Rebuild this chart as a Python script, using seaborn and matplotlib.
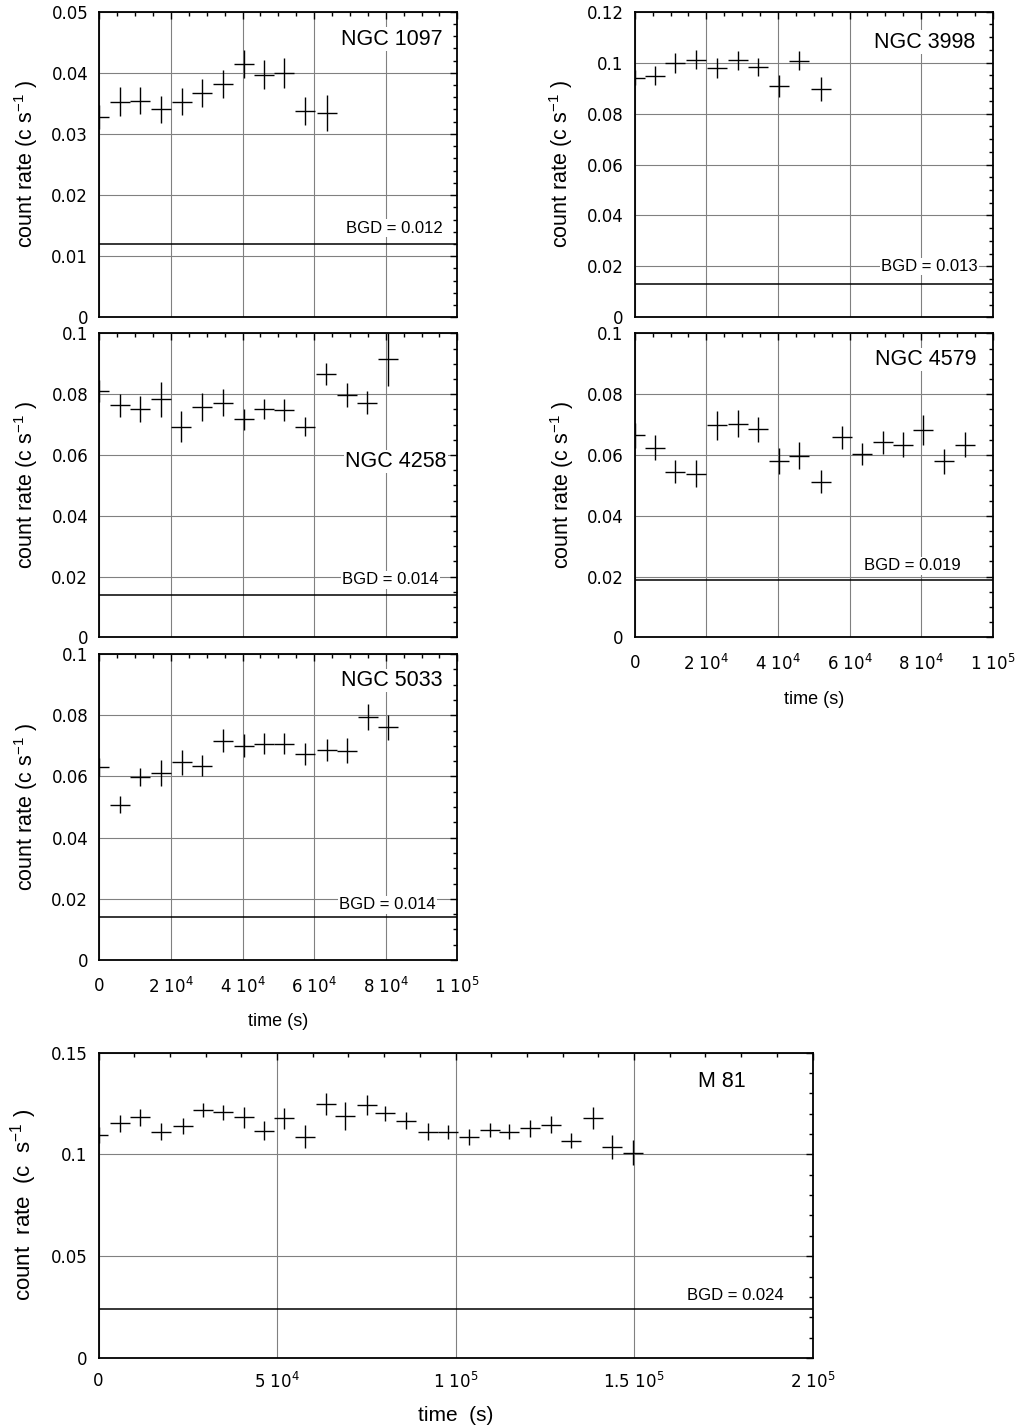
import numpy as np
import matplotlib
matplotlib.use("Agg")
import matplotlib.pyplot as plt
from matplotlib.ticker import MultipleLocator, FuncFormatter
import seaborn as sns

# light curves: bin centre (s), rate (c/s), 1-sigma error
t_1097 = [0, 5770, 11450, 17230, 23090, 28770, 34450, 40320, 46090, 51680, 57540, 63500]
r_1097 = [0.0328, 0.0353, 0.0354, 0.0340, 0.0353, 0.0367, 0.0381, 0.0414, 0.0397, 0.0400, 0.0338, 0.0334]
e_1097 = [0.0020, 0.0023, 0.0022, 0.0022, 0.0022, 0.0023, 0.0023, 0.0023, 0.0024, 0.0025, 0.0023, 0.0029]

t_3998 = [0, 5680, 11270, 17040, 22900, 28770, 34540, 40220, 46000, 51950]
r_3998 = [0.0941, 0.0949, 0.1000, 0.1012, 0.0980, 0.1009, 0.0984, 0.0908, 0.1008, 0.0895]
e_3998 = [0.0030, 0.0036, 0.0039, 0.0038, 0.0039, 0.0036, 0.0035, 0.0042, 0.0036, 0.0047]

t_4258 = [0, 5770, 11450, 17230, 22810, 28770, 34450, 40320, 46090, 51680, 57540, 63320, 69090, 74670, 80540]
r_4258 = [0.0810, 0.0763, 0.0750, 0.0783, 0.0692, 0.0759, 0.0772, 0.0717, 0.0750, 0.0747, 0.0693,
          0.0865, 0.0797, 0.0772, 0.0914]
e_4258 = [0.0035, 0.0037, 0.0043, 0.0058, 0.0051, 0.0046, 0.0044, 0.0034, 0.0033, 0.0036, 0.0032,
          0.0036, 0.0038, 0.0038, 0.0088]

t_4579 = [0, 5680, 11270, 17040, 22900, 28770, 34540, 40220, 46000, 51950, 57820, 63590, 69270,
          75050, 80630, 86500, 92270]
r_4579 = [0.0664, 0.0624, 0.0545, 0.0538, 0.0698, 0.0703, 0.0684, 0.0579, 0.0598, 0.0512, 0.0658,
          0.0603, 0.0641, 0.0633, 0.0682, 0.0579, 0.0633]
e_4579 = [0.0040, 0.0041, 0.0038, 0.0045, 0.0048, 0.0044, 0.0042, 0.0043, 0.0043, 0.0038, 0.0037,
          0.0036, 0.0038, 0.0041, 0.0048, 0.0041, 0.0041]

t_5033 = [0, 5770, 11450, 17230, 23000, 28770, 34450, 40320, 46090, 51680, 57540, 63500, 69090,
          74950, 80540]
r_5033 = [0.0630, 0.0507, 0.0597, 0.0612, 0.0646, 0.0635, 0.0717, 0.0700, 0.0707, 0.0707, 0.0672,
          0.0686, 0.0684, 0.0793, 0.0760]
e_5033 = [0.0030, 0.0028, 0.0029, 0.0043, 0.0041, 0.0035, 0.0038, 0.0038, 0.0034, 0.0035, 0.0036,
          0.0037, 0.0040, 0.0042, 0.0040]

t_m81 = [0, 5920, 11690, 17460, 23540, 29160, 34930, 40850, 46300, 51900, 57800, 63630, 68940,
         75200, 80330, 86100, 92180, 97950, 103700, 109600, 115000, 121000, 126800, 132400, 138500,
         143800, 149600]
r_m81 = [0.1096, 0.1152, 0.1181, 0.1112, 0.1140, 0.1217, 0.1206, 0.1181, 0.1116, 0.1176, 0.1086,
         0.1247, 0.1189, 0.1242, 0.1201, 0.1165, 0.1112, 0.1108, 0.1086, 0.1119, 0.1111, 0.1127,
         0.1145, 0.1067, 0.1178, 0.1037, 0.1009]
e_m81 = [0.0040, 0.0041, 0.0043, 0.0041, 0.0038, 0.0034, 0.0035, 0.0051, 0.0047, 0.0053, 0.0057,
         0.0055, 0.0068, 0.0049, 0.0038, 0.0041, 0.0041, 0.0035, 0.0038, 0.0036, 0.0038, 0.0041,
         0.0041, 0.0037, 0.0055, 0.0060, 0.0059]

half_bin = 2800

sns.set_theme(style="white")
plt.rcParams['font.family'] = ['Liberation Sans', 'DejaVu Sans']
plt.rcParams['mathtext.fontset'] = 'custom'
plt.rcParams['mathtext.rm'] = 'DejaVu Sans'
plt.rcParams['mathtext.it'] = 'DejaVu Sans'
for k in ['text.color', 'axes.labelcolor', 'xtick.color', 'ytick.color']:
    plt.rcParams[k] = 'black'


def sci_label(v, pos):
    if abs(v) < 1e-6:
        return '0'
    if v < 0:
        return ''
    e = int(np.floor(np.log10(v) + 1e-9))
    m = v / 10 ** e
    return r'$\mathregular{%g\ 10^{%d}}$' % (round(m, 3), e)


def panel(rect, t, r, err, name, name_xy, bgd, bgd_xy, ymax, ymaj, ymin,
          xmax=1e5, xmaj=2e4, xmin=5e3, xlabels=False, big=False):
    ax = fig.add_axes(rect)
    ax.errorbar(t, r, yerr=err, xerr=half_bin, fmt='none', ecolor='black',
                elinewidth=1.0, capsize=0, zorder=3)
    ax.axhline(bgd, color='black', lw=1.1, zorder=2)
    ax.set_xlim(0, xmax)
    ax.set_ylim(0, ymax)
    ax.xaxis.set_major_locator(MultipleLocator(xmaj))
    ax.xaxis.set_minor_locator(MultipleLocator(xmin))
    ax.yaxis.set_major_locator(MultipleLocator(ymaj))
    ax.yaxis.set_minor_locator(MultipleLocator(ymin))
    ax.yaxis.set_major_formatter(FuncFormatter(lambda v, p: '%g' % round(v, 4)))
    if xlabels:
        ax.xaxis.set_major_formatter(FuncFormatter(sci_label))
        ax.set_xlabel('time  (s)' if big else 'time (s)', fontsize=15 if big else 13,
                      labelpad=12 if not big else 10)
    else:
        ax.xaxis.set_major_formatter(FuncFormatter(lambda v, p: ''))
    ax.grid(True, which='major', color='#808080', lw=0.8, zorder=0)
    ax.tick_params(which='both', direction='in', top=True, right=True, color='black')
    ax.tick_params(axis='y', labelsize=12, pad=8, labelfontfamily='DejaVu Sans')
    ax.tick_params(axis='x', labelsize=12, pad=12 if not big else 10, labelfontfamily='DejaVu Sans')
    ax.tick_params(which='major', length=5, width=1)
    ax.tick_params(which='minor', length=3, width=1)
    for s in ax.spines.values():
        s.set_color('black')
        s.set_linewidth(1.3)
    ylab = r'count  rate  (c  s$^{\mathregular{-1}}$ )' if big else r'count rate (c s$^{\mathregular{-1}}$ )'
    ax.set_ylabel(ylab, fontsize=16 if big else 15.5, labelpad=8)
    box = dict(facecolor='white', edgecolor='none', pad=1)
    ax.text(name_xy[0], name_xy[1], name, ha='right', va='center', fontsize=15.5,
            bbox=box, zorder=4)
    ax.text(bgd_xy[0], bgd_xy[1], 'BGD = %g' % bgd, ha='right', va='center', fontsize=12,
            bbox=box, zorder=4)
    return ax


fig = plt.figure(figsize=(10.22, 14.27), dpi=100)
W, H = 1022, 1427


def rect(left, top, right, bottom):
    return [left / W, 1 - bottom / H, (right - left) / W, (bottom - top) / H]


panel(rect(99.3, 11.7, 457.3, 317.3), t_1097, r_1097, e_1097, 'NGC 1097', (96000, 0.0455),
      0.012, (96000, 0.0146), 0.05, 0.01, 0.002)
panel(rect(634.7, 11.7, 992.7, 317.3), t_3998, r_3998, e_3998, 'NGC 3998', (95100, 0.108),
      0.013, (95900, 0.0199), 0.12, 0.02, 0.005)
panel(rect(99.3, 333.3, 457.3, 637.3), t_4258, r_4258, e_4258, 'NGC 4258', (97000, 0.0578),
      0.014, (94900, 0.0189), 0.1, 0.02, 0.005)
panel(rect(634.7, 333.3, 992.7, 637.3), t_4579, r_4579, e_4579, 'NGC 4579', (95500, 0.0914),
      0.019, (91100, 0.0235), 0.1, 0.02, 0.005, xlabels=True)
panel(rect(99.3, 654, 457.3, 960), t_5033, r_5033, e_5033, 'NGC 5033', (96000, 0.0913),
      0.014, (94000, 0.018), 0.1, 0.02, 0.005, xlabels=True)
panel(rect(98.5, 1052.5, 812.5, 1358), t_m81, r_m81, e_m81, 'M 81', (181400, 0.136),
      0.024, (192000, 0.0306), 0.15, 0.05, 0.01, xmax=2e5, xmaj=5e4, xmin=1e4,
      xlabels=True, big=True)

fig.savefig('out.png', dpi=100)
